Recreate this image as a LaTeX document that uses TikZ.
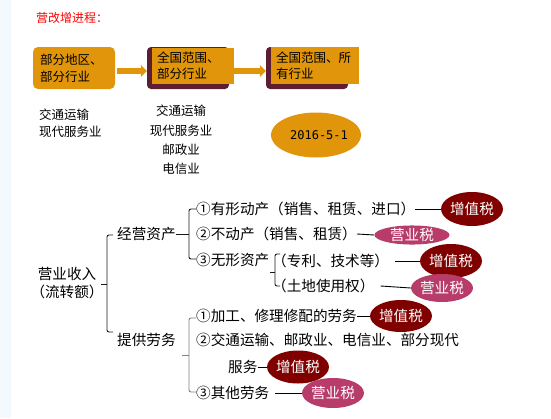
\documentclass[tikz,border=0pt]{standalone}
\usepackage{fontspec}
\setmainfont{Noto Sans CJK SC}
\newfontfamily\numfont{DejaVu Sans Mono}
\usetikzlibrary{shapes.geometric,arrows.meta}
\definecolor{orng}{HTML}{E0950A}
\definecolor{shadowc}{HTML}{5E1E32}
\definecolor{vatc}{HTML}{800000}
\definecolor{bizc}{HTML}{B83C6A}
\definecolor{stripc}{HTML}{F3F9FF}
\begin{document}
\begin{tikzpicture}[x=1pt,y=-1pt,
  txt/.style={inner sep=0pt, anchor=west, font=\fontsize{14.6}{18}\selectfont},
  small/.style={inner sep=0pt, font=\fontsize{12.5}{17}\selectfont},
  vatell/.style={ellipse, fill=vatc, text=white, inner sep=0pt, font=\fontsize{14.6}{16}\selectfont},
  bizell/.style={ellipse, fill=bizc, text=white, inner sep=0pt, font=\fontsize{14.6}{16}\selectfont},
  brk/.style={draw=black!90, line width=0.9pt, rounded corners=2pt},
  lnk/.style={draw=black, line width=0.9pt},
  flow/.style={draw=orng, line width=6pt, -{Triangle[length=6pt,width=12pt]}},
  frontbox/.style={fill=orng, inner xsep=5pt, inner ysep=0pt, align=left, font=\fontsize{12.5}{16}\selectfont},
  shadowbox/.style={fill=shadowc, rounded corners=4pt, minimum width=82pt, minimum height=42pt, inner sep=0pt}
]
\useasboundingbox (0,0) rectangle (551,418);
\fill[stripc] (0,0) rectangle (11,418);

\node[small, text=red, anchor=west, font=\fontsize{12}{14}\selectfont] (title) at (36,18) {营改增进程：};

% process boxes
\node[fill=orng, rounded corners=5pt, minimum width=82pt, minimum height=42pt,
      inner xsep=7pt, inner ysep=0pt, text width=68pt, align=left,
      font=\fontsize{12.5}{17}\selectfont] (b1) at (74,68) {部分地区、\\部分行业};
\node[shadowbox] (s2) at (188,68) {};
\node[frontbox, minimum width=82pt, minimum height=36pt, text width=72pt] (b2) at (193,66) {全国范围、\\部分行业};
\node[shadowbox] (s3) at (307,68) {};
\node[frontbox, minimum width=88pt, minimum height=37pt, text width=78pt] (b3) at (315,65.5) {全国范围、所\\有行业};
\draw[flow, shorten <=2pt] ([yshift=-3pt]b1.east) -- ([yshift=-3pt]s2.west);
\draw[flow] ([yshift=-5pt]b2.east) -- ([yshift=-3pt]s3.west);

\node[small, align=left, anchor=west] (l1) at (39,123) {交通运输\\现代服务业};
\node[small, align=center, font=\fontsize{12.5}{19.3}\selectfont] (l2) at (181,140) {交通运输\\现代服务业\\邮政业\\电信业};
\node[ellipse, fill=orng, minimum width=89pt, minimum height=45pt, inner sep=0pt,
      font=\numfont\fontsize{12}{14}\selectfont] (date) at (316,135) {\hspace{6pt}2016-5-1};

% classification tree
\node[txt, anchor=center, align=center] (rev) at (67,283) {营业收入\\（流转额）};
\draw[brk] (113,235) -- (107,235) -- (107,332) -- (113,332);
\draw[brk] (101,284) -- (107,284);

\node[txt] (jy) at (117,234) {经营资产};
\node[txt] (fw) at (117,340) {提供劳务};

\draw[brk] (196,209) -- (189,209) -- (189,259) -- (196,259);
\draw[brk] (jy.east) -- (189,234);

\node[txt] (a1) at (196,209) {①有形动产（销售、租赁、进口）};
\node[txt] (a2) at (196,234) {②不动产（销售、租赁）};
\node[txt] (a3) at (196,260) {③无形资产};
\node[txt] (a31) at (272,261) {（专利、技术等）};
\node[txt] (a32) at (272,286) {（土地使用权）};
\draw[brk] (280,254) -- (275,254) -- (275,286) -- (280,286);
\draw[brk] (270,272) -- (275,272);

\draw[brk, draw=gray] (196,318) -- (189,318) -- (189,392) -- (196,392);
\draw[brk, draw=gray] (182,355) -- (189,355);

\node[txt] (c1) at (196,316) {①加工、修理修配的劳务};
\node[txt] (c2) at (196,340) {②交通运输、邮政业、电信业、部分现代};
\node[txt] (c2b) at (228,367) {服务};
\node[txt] (c3) at (196,393) {③其他劳务};

% tax ellipses
\node[vatell, minimum width=57pt, minimum height=34pt] (v1) at (472,209) {增值税};
\node[bizell, minimum width=75pt, minimum height=17pt] (z1) at (412,235) {营业税};
\node[vatell, minimum width=57pt, minimum height=34pt] (v2) at (451,261) {增值税};
\node[bizell, minimum width=56pt, minimum height=28pt] (z2) at (442,288) {营业税};
\node[vatell, minimum width=58pt, minimum height=32pt] (v3) at (401,316) {增值税};
\node[vatell, minimum width=58pt, minimum height=33pt] (v4) at (298,367) {增值税};
\node[bizell, minimum width=60pt, minimum height=30pt] (z3) at (333,393) {营业税};

\draw[lnk] (a1.east) -- (v1.west);
\draw[lnk] (a2.east) -- (z1.west);
\draw[lnk] ([xshift=6pt]a31.east) -- (v2.west);
\draw[lnk] ([xshift=6pt]a32.east) -- (z2.west);
\draw[lnk] (c1.east) -- (v3.west);
\draw[lnk] (c2b.east) -- (v4.west);
\draw[lnk] ([xshift=6pt]c3.east) -- (z3.west);
\end{tikzpicture}
\end{document}
